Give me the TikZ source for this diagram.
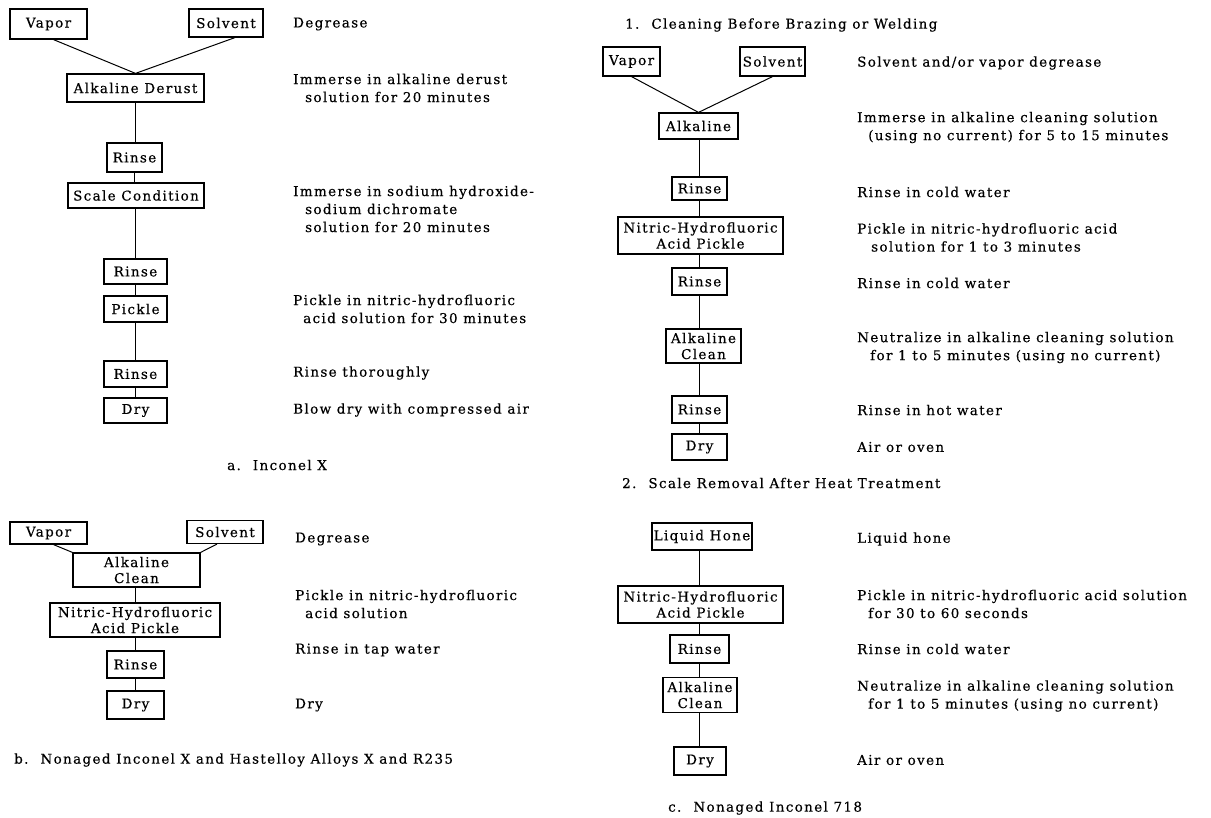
\documentclass[tikz,border=0pt]{standalone}
\usepackage{fontspec}
\newfontfamily\descfont[LetterSpace=10,FakeBold=0.4]{DejaVu Serif}
\tikzset{
  box/.style={draw, line width=1.2pt, inner sep=0pt, align=center,
    font={\descfont\fontsize{13.5}{16}\selectfont}},
  desc/.style={anchor=west, inner sep=0pt, align=left,
    font={\descfont\fontsize{13.5}{18}\selectfont}},
  conn/.style={line width=1pt}
}
\begin{document}
\begin{tikzpicture}[x=1pt,y=-1pt]
\useasboundingbox (0,0) rectangle (1211,818);
% ---------- a. Inconel X ----------
\node[box, minimum width=77pt, minimum height=30pt] (va) at (48.5,24) {Vapor};
\node[box, minimum width=74pt, minimum height=28pt] (sa) at (226,23) {Solvent};
\node[box, minimum width=137pt, minimum height=28pt] (ad) at (135.5,88) {Alkaline Derust};
\node[box, minimum width=55pt, minimum height=29pt] (ra1) at (134.5,157.5) {Rinse};
\node[box, minimum width=136pt, minimum height=25pt] (sc) at (136,195.5) {Scale Condition};
\node[box, minimum width=63pt, minimum height=25pt] (ra2) at (135.5,271.5) {Rinse};
\node[box, minimum width=63pt, minimum height=26pt] (pk) at (135.5,309) {Pickle};
\node[box, minimum width=63pt, minimum height=26pt] (ra3) at (135.5,374) {Rinse};
\node[box, minimum width=63pt, minimum height=25pt] (dya) at (135.5,410.5) {Dry};
\draw[conn] ([xshift=5pt]va.south) -- (ad.north);
\draw[conn] ([xshift=9pt]sa.south) -- (ad.north);
\draw[conn] (ad.south) -- (ad.south |- ra1.north);
\draw[conn] (ra1.south) -- (ra1.south |- sc.north);
\draw[conn] (sc.south -| ra2.north) -- (ra2.north);
\draw[conn] (ra2.south) -- (pk.north);
\draw[conn] (pk.south) -- (ra3.north);
\draw[conn] (ra3.south) -- (dya.north);
\node[desc] (da1) at (293,24) {Degrease};
\node[desc] (da2) at (293,88) {Immerse in alkaline derust\\\hspace*{12pt}solution for 20 minutes};
\node[desc] (da3) at (293,209) {Immerse in sodium hydroxide-\\\hspace*{12pt}sodium dichromate\\\hspace*{12pt}solution for 20 minutes};
\node[desc] (da4) at (293,309) {Pickle in nitric-hydrofluoric\\\hspace*{10pt}acid solution for 30 minutes};
\node[desc] (da5) at (293,373) {Rinse thoroughly};
\node[desc] (da6) at (293,410) {Blow dry with compressed air};
\node[desc] (capa) at (227,465) {a.\hspace{12pt}Inconel X};
% ---------- b. Nonaged Inconel X ----------
\node[box, minimum width=77pt, minimum height=22pt] (vb) at (48.5,533) {Vapor};
\node[box, minimum width=76pt, minimum height=23pt] (sb) at (225,532) {Solvent};
\node[box, minimum width=127pt, minimum height=34pt] (acb) at (136.5,570) {Alkaline\\Clean};
\node[box, minimum width=170pt, minimum height=34pt] (nb) at (135,620) {Nitric-Hydrofluoric\\Acid Pickle};
\node[box, minimum width=57pt, minimum height=27pt] (rb) at (135.5,664.5) {Rinse};
\node[box, minimum width=57pt, minimum height=28pt] (dyb) at (135.5,705) {Dry};
\draw[conn] ([xshift=5pt]vb.south) -- (acb.north west);
\draw[conn] ([xshift=-8pt]sb.south) -- (acb.north east);
\draw[conn] (acb.south -| nb.north) -- (nb.north);
\draw[conn] (nb.south) -- (nb.south |- rb.north);
\draw[conn] (rb.south) -- (dyb.north);
\node[desc] (db1) at (295,539) {Degrease};
\node[desc] (db2) at (295,604) {Pickle in nitric-hydrofluoric\\\hspace*{10pt}acid solution};
\node[desc] (db3) at (295,650) {Rinse in tap water};
\node[desc] (db4) at (295,705) {Dry};
\node[desc] (capb) at (14,760) {b.\hspace{12pt}Nonaged Inconel X and Hastelloy Alloys X and R235};
% ---------- c.1 Cleaning Before Brazing ----------
\node[desc] (h1) at (625,25) {1.\hspace{12pt}Cleaning Before Brazing or Welding};
\node[box, minimum width=57pt, minimum height=29pt] (vr) at (631.5,61.5) {Vapor};
\node[box, minimum width=65pt, minimum height=29pt] (sr) at (772.5,61.5) {Solvent};
\node[box, minimum width=79pt, minimum height=26pt] (alr) at (698.5,126) {Alkaline};
\node[box, minimum width=55pt, minimum height=23pt] (rr1) at (699.5,188.5) {Rinse};
\node[box, minimum width=165pt, minimum height=37pt] (nr) at (700.5,235.5) {Nitric-Hydrofluoric\\Acid Pickle};
\node[box, minimum width=55pt, minimum height=27pt] (rr2) at (699.5,281.5) {Rinse};
\node[box, minimum width=75pt, minimum height=34pt] (acr) at (703.5,346) {Alkaline\\Clean};
\node[box, minimum width=55pt, minimum height=27pt] (rr3) at (699.5,409.5) {Rinse};
\node[box, minimum width=55pt, minimum height=26pt] (dyr) at (699.5,447) {Dry};
\draw[conn] (vr.south) -- (alr.north);
\draw[conn] (sr.south) -- (alr.north);
\draw[conn] (rr1.north |- alr.south) -- (rr1.north);
\draw[conn] (rr1.south) -- (rr1.south |- nr.north);
\draw[conn] (rr2.north |- nr.south) -- (rr2.north);
\draw[conn] (rr2.south) -- (rr2.south |- acr.north);
\draw[conn] (rr3.north |- acr.south) -- (rr3.north);
\draw[conn] (rr3.south) -- (dyr.north);
\node[desc] (d11) at (857,63) {Solvent and/or vapor degrease};
\node[desc] (d12) at (857,127.5) {Immerse in alkaline cleaning solution\\\hspace*{11pt}(using no current) for 5 to 15 minutes};
\node[desc] (d13) at (857,192) {Rinse in cold water};
\node[desc] (d14) at (857,237.5) {Pickle in nitric-hydrofluoric acid\\\hspace*{14pt}solution for 1 to 3 minutes};
\node[desc] (d15) at (857,283) {Rinse in cold water};
\node[desc] (d16) at (857,347.5) {Neutralize in alkaline cleaning solution\\\hspace*{13pt}for 1 to 5 minutes (using no current)};
\node[desc] (d17) at (857,410) {Rinse in hot water};
\node[desc] (d18) at (857,447) {Air or oven};
% ---------- c.2 Scale Removal ----------
\node[desc] (h2) at (622,483) {2.\hspace{12pt}Scale Removal After Heat Treatment};
\node[box, minimum width=100pt, minimum height=27pt] (lh) at (702,536.5) {Liquid Hone};
\node[box, minimum width=165pt, minimum height=37pt] (nc) at (700.5,604.5) {Nitric-Hydrofluoric\\Acid Pickle};
\node[box, minimum width=59pt, minimum height=28pt] (rc) at (699.5,649) {Rinse};
\node[box, minimum width=74pt, minimum height=35pt] (acc) at (700,695) {Alkaline\\Clean};
\node[box, minimum width=52pt, minimum height=28pt] (dyc) at (700,761) {Dry};
\draw[conn] (lh.south -| rc.north) -- (rc.north |- nc.north);
\draw[conn] (rc.north |- nc.south) -- (rc.north);
\draw[conn] (rc.south) -- (rc.south |- acc.north);
\draw[conn] (rc.south |- acc.south) -- (rc.south |- dyc.north);
\node[desc] (d21) at (857,539) {Liquid hone};
\node[desc] (d22) at (857,604) {Pickle in nitric-hydrofluoric acid solution\\\hspace*{11pt}for 30 to 60 seconds};
\node[desc] (d23) at (857,649) {Rinse in cold water};
\node[desc] (d24) at (857,696) {Neutralize in alkaline cleaning solution\\\hspace*{11pt}for 1 to 5 minutes (using no current)};
\node[desc] (d25) at (857,760) {Air or oven};
\node[desc] (capc) at (668,808) {c.\hspace{12pt}Nonaged Inconel 718};
\end{tikzpicture}
\end{document}
